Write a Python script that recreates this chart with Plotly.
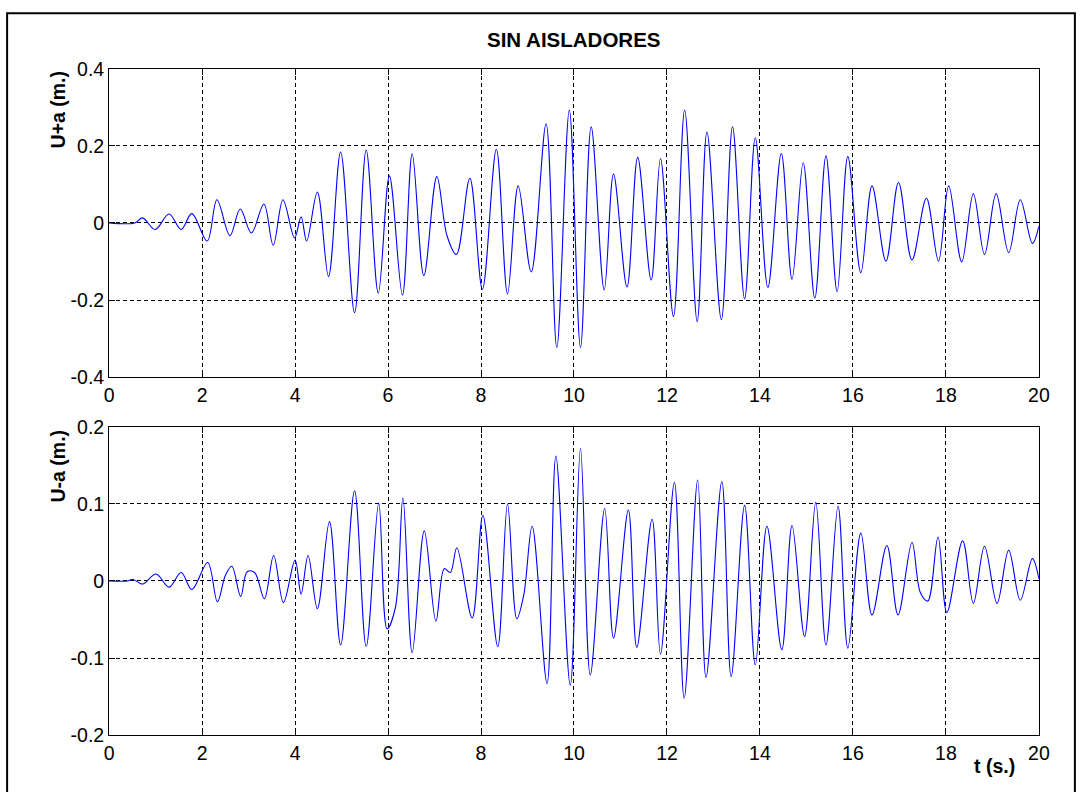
import plotly.graph_objects as go

# Respuesta sin aisladores: desplazamientos U+a y U-a (m) frente al tiempo (s)
t_sup = [0.00, 0.55, 0.72, 0.99, 1.29, 1.55, 1.78, 2.11, 2.32, 2.60, 2.82, 3.06, 3.33, 3.53,
         3.74, 3.99, 4.13, 4.25, 4.48, 4.72, 4.98, 5.28, 5.53, 5.79, 6.03, 6.31, 6.52, 6.77,
         7.05, 7.27, 7.47, 7.76, 8.03, 8.33, 8.57, 8.80, 9.08, 9.40, 9.63, 9.90, 10.14, 10.37,
         10.65, 10.85, 11.14, 11.37, 11.66, 11.86, 12.14, 12.38, 12.65, 12.86, 13.17, 13.41,
         13.67, 13.90, 14.17, 14.46, 14.69, 14.93, 15.18, 15.42, 15.66, 15.89, 16.17, 16.41,
         16.71, 16.98, 17.27, 17.58, 17.84, 18.06, 18.34, 18.59, 18.83, 19.08, 19.35, 19.60,
         19.86, 20.00]
u_mas_a = [0.000, 0.000, 0.013, -0.017, 0.023, -0.017, 0.024, -0.047, 0.060, -0.033, 0.036,
           -0.026, 0.049, -0.058, 0.060, -0.039, 0.016, -0.047, 0.080, -0.139, 0.184, -0.233,
           0.189, -0.182, 0.122, -0.187, 0.179, -0.137, 0.120, -0.034, -0.082, 0.116, -0.172,
           0.191, -0.184, 0.096, -0.127, 0.257, -0.323, 0.293, -0.323, 0.249, -0.174, 0.127,
           -0.166, 0.170, -0.148, 0.167, -0.243, 0.293, -0.256, 0.236, -0.251, 0.249, -0.197,
           0.221, -0.167, 0.180, -0.146, 0.156, -0.195, 0.174, -0.178, 0.172, -0.129, 0.096,
           -0.099, 0.105, -0.096, 0.064, -0.099, 0.096, -0.101, 0.076, -0.082, 0.076, -0.077,
           0.060, -0.053, -0.009]

t_inf = [0.00, 0.40, 0.52, 0.72, 1.01, 1.29, 1.55, 1.78, 2.12, 2.33, 2.50, 2.64, 2.83, 2.97,
         3.13, 3.34, 3.54, 3.75, 4.00, 4.13, 4.28, 4.48, 4.74, 4.98, 5.28, 5.53, 5.80, 5.98,
         6.16, 6.32, 6.52, 6.78, 7.03, 7.21, 7.34, 7.48, 7.81, 8.04, 8.36, 8.57, 8.77, 8.92,
         9.10, 9.42, 9.61, 9.92, 10.14, 10.35, 10.66, 10.85, 11.17, 11.35, 11.68, 11.86, 12.16,
         12.37, 12.66, 12.84, 13.18, 13.38, 13.67, 13.90, 14.15, 14.47, 14.69, 14.96, 15.20,
         15.42, 15.68, 15.89, 16.17, 16.41, 16.73, 16.97, 17.27, 17.45, 17.61, 17.83, 18.02,
         18.36, 18.59, 18.83, 19.10, 19.35, 19.60, 19.86, 20.00]
u_menos_a = [0.000, 0.000, 0.002, -0.004, 0.009, -0.008, 0.011, -0.011, 0.024, -0.027, 0.007,
             0.019, -0.020, 0.012, 0.011, -0.023, 0.033, -0.028, 0.027, -0.017, 0.033, -0.036,
             0.077, -0.083, 0.117, -0.085, 0.101, -0.062, -0.034, 0.108, -0.093, 0.065, -0.052,
             0.016, 0.011, 0.043, -0.048, 0.085, -0.085, 0.100, -0.049, -0.018, 0.071, -0.133,
             0.162, -0.135, 0.172, -0.122, 0.094, -0.074, 0.092, -0.086, 0.080, -0.095, 0.128,
             -0.152, 0.131, -0.125, 0.129, -0.124, 0.098, -0.109, 0.071, -0.089, 0.072, -0.072,
             0.102, -0.083, 0.097, -0.087, 0.062, -0.044, 0.046, -0.044, 0.050, -0.015, -0.026,
             0.057, -0.041, 0.052, -0.029, 0.045, -0.029, 0.040, -0.025, 0.029, 0.003]

x_ticks = [0, 2, 4, 6, 8, 10, 12, 14, 16, 18, 20]
x_tick_text = ["0", "2", "4", "6", "8", "10", "12", "14", "16", "18", "20"]
y_sup_ticks = [-0.4, -0.2, 0, 0.2, 0.4]
y_sup_text = ["-0.4", "-0.2", "0", "0.2", "0.4"]
y_inf_ticks = [-0.2, -0.1, 0, 0.1, 0.2]
y_inf_text = ["-0.2", "-0.1", "0", "0.1", "0.2"]

# Figure size; the page adds an 8px body margin around it and the final
# view spans the full page including that margin.
W, H, BODY_MARGIN = 1088, 792, 8
VIEW_W, VIEW_H = W + 2 * BODY_MARGIN, H + 2 * BODY_MARGIN
FONT = "Liberation Sans, Arial, sans-serif"


def px_x(p):
    """Layout column in a 1088-wide view -> paper fraction."""
    return (p * VIEW_W / W - BODY_MARGIN) / W


def px_y(p):
    """Layout row (from top) in a 792-high view -> paper fraction."""
    return 1 - (p * VIEW_H / H - BODY_MARGIN) / H


def label(text, x, y, size=19.5, angle=0):
    return dict(text=text, xref="paper", yref="paper", x=px_x(x), y=px_y(y),
                xanchor="center", yanchor="middle", showarrow=False, textangle=angle,
                font=dict(family=FONT, size=size, color="black"))


fig = go.Figure()
fig.add_trace(go.Scatter(x=t_sup, y=u_mas_a, mode="lines", xaxis="x", yaxis="y",
                         line=dict(color="#0000ff", width=1.1, shape="spline", smoothing=1.0),
                         showlegend=False))
fig.add_trace(go.Scatter(x=t_inf, y=u_menos_a, mode="lines", xaxis="x2", yaxis="y2",
                         line=dict(color="#0000ff", width=1.1, shape="spline", smoothing=1.0),
                         showlegend=False))

axis_common = dict(
    showline=True, linecolor="black", linewidth=1, mirror="ticks",
    ticks="inside", ticklen=6, tickcolor="black", tickwidth=1,
    showgrid=True, gridcolor="black", gridwidth=1, griddash="4px,3px",
    zeroline=False, tickfont=dict(family=FONT, size=19.5, color="black"),
)

x_dom = [px_x(112), px_x(1042)]
fig.update_layout(
    width=W, height=H,
    margin=dict(l=0, r=0, t=0, b=0),
    paper_bgcolor="white", plot_bgcolor="white",
    xaxis=dict(domain=x_dom, range=[0, 20], anchor="y",
               tickmode="array", tickvals=x_ticks, ticktext=x_tick_text, **axis_common),
    yaxis=dict(domain=[px_y(377), px_y(66)], range=[-0.4, 0.4], anchor="x",
               tickmode="array", tickvals=y_sup_ticks, ticktext=y_sup_text, **axis_common),
    xaxis2=dict(domain=x_dom, range=[0, 20], anchor="y2",
                tickmode="array", tickvals=x_ticks, ticktext=x_tick_text, **axis_common),
    yaxis2=dict(domain=[px_y(738), px_y(427)], range=[-0.2, 0.2], anchor="x2",
                tickmode="array", tickvals=y_inf_ticks, ticktext=y_inf_text, **axis_common),
    shapes=[dict(type="rect", xref="paper", yref="paper",
                 x0=px_x(10), x1=px_x(1078), y0=px_y(810), y1=px_y(10),
                 line=dict(color="black", width=2), fillcolor="rgba(0,0,0,0)")],
    annotations=[
        label("<b>SIN AISLADORES</b>", 577, 37, size=20.5),
        label("<b>U+a (m.)</b>", 61, 108, angle=-90),
        label("<b>U-a (m.)</b>", 61, 467, angle=-90),
        label("<b>t (s.)</b>", 998, 769),
    ],
)

fig.write_html("out.html")
